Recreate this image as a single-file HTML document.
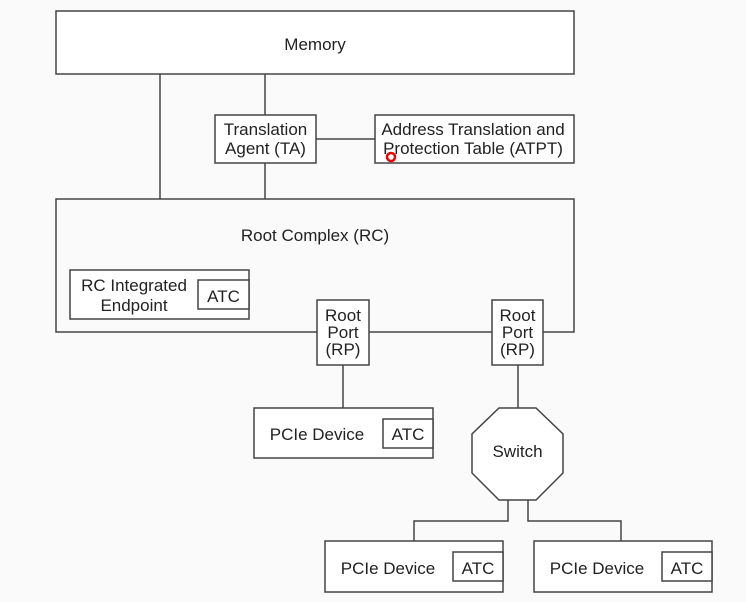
<!DOCTYPE html>
<html><head><meta charset="utf-8"><style>
html,body{margin:0;padding:0;background:#fafafa;}
svg{display:block}
text{font-family:"Liberation Sans",Arial,sans-serif;font-size:17px;fill:#222;}
</style></head><body>
<svg width="746" height="602" viewBox="0 0 746 602">
<rect width="746" height="602" fill="#fafafa"/>
<g fill="none" stroke="#444" stroke-width="1.5">
<rect x="56" y="11" width="518" height="63" fill="#fff"/>
<line x1="160" y1="74" x2="160" y2="199"/>
<line x1="265" y1="74" x2="265" y2="115"/>
<line x1="265" y1="163" x2="265" y2="199"/>
<line x1="316" y1="139" x2="375" y2="139"/>
<rect x="215" y="115" width="101" height="48" fill="#fff"/>
<rect x="375" y="115" width="199" height="48" fill="#fff"/>
<path d="M317 332 H56 V199 H574 V332 H543 M492 332 H369" />
<rect x="70" y="270" width="179" height="49" fill="#fff"/>
<rect x="198" y="280" width="51" height="29" fill="#fff"/>
<rect x="317" y="300" width="52" height="65" fill="#fff"/>
<rect x="492" y="300" width="51" height="65" fill="#fff"/>
<line x1="343" y1="365" x2="343" y2="408"/>
<line x1="518" y1="365" x2="518" y2="408"/>
<rect x="254" y="408" width="179" height="50" fill="#fff"/>
<rect x="383" y="419" width="50" height="29" fill="#fff"/>
<polygon points="499,408 536,408 563,434 563,473 536,500 499,500 472,473 472,434" fill="#fff"/>
<path d="M508 500 V521 H414 V541"/>
<path d="M528 500 V521 H621 V541"/>
<rect x="325" y="541" width="178" height="51" fill="#fff"/>
<rect x="453" y="552" width="50" height="29" fill="#fff"/>
<rect x="534" y="541" width="178" height="51" fill="#fff"/>
<rect x="662" y="552" width="50" height="29" fill="#fff"/>
</g>
<text x="315" y="50" text-anchor="middle">Memory</text>
<text x="265.5" y="135" text-anchor="middle">Translation</text>
<text x="265.5" y="154" text-anchor="middle">Agent (TA)</text>
<text x="473" y="135" text-anchor="middle">Address Translation and</text>
<text x="473" y="154" text-anchor="middle">Protection Table (ATPT)</text>
<circle cx="391" cy="157" r="4" fill="none" stroke="#e00" stroke-width="2.5"/>
<text x="315" y="241" text-anchor="middle">Root Complex (RC)</text>
<text x="134" y="291" text-anchor="middle">RC Integrated</text>
<text x="134" y="311" text-anchor="middle">Endpoint</text>
<text x="223.5" y="302" text-anchor="middle">ATC</text>
<text x="343" y="321" text-anchor="middle">Root</text>
<text x="343" y="338" text-anchor="middle">Port</text>
<text x="343" y="355" text-anchor="middle">(RP)</text>
<text x="517.5" y="321" text-anchor="middle">Root</text>
<text x="517.5" y="338" text-anchor="middle">Port</text>
<text x="517.5" y="355" text-anchor="middle">(RP)</text>
<text x="317" y="440" text-anchor="middle">PCIe Device</text>
<text x="408" y="440" text-anchor="middle">ATC</text>
<text x="517.5" y="457" text-anchor="middle">Switch</text>
<text x="388" y="574" text-anchor="middle">PCIe Device</text>
<text x="478" y="574" text-anchor="middle">ATC</text>
<text x="597" y="574" text-anchor="middle">PCIe Device</text>
<text x="687" y="574" text-anchor="middle">ATC</text>
</svg>
</body></html>
